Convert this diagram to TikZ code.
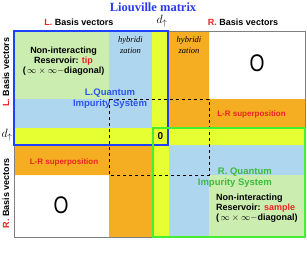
\documentclass[tikz,border=0pt]{standalone}
\usepackage{fontspec}
\setmainfont{Liberation Serif}
\setsansfont{Liberation Sans}
\usetikzlibrary{positioning}
\definecolor{resgreen}{HTML}{CCEDB0}
\definecolor{hybblue}{HTML}{AED6EF}
\definecolor{dyellow}{HTML}{E6FF33}
\definecolor{lrorange}{HTML}{F5AD22}
\definecolor{frameblue}{HTML}{2040FF}
\definecolor{framegreen}{HTML}{44EE30}
\definecolor{titleblue}{HTML}{2A3BEE}
\definecolor{txtblue}{HTML}{2B55E8}
\definecolor{txtgreen}{HTML}{3CBB3C}
\definecolor{tipred}{HTML}{EE2222}

\begin{document}
\begin{tikzpicture}[x=1pt, y=-1pt,
  lbl/.style={font=\sffamily\bfseries\fontsize{9}{10}\selectfont, align=center, inner sep=0pt},
  axis/.style={font=\sffamily\bfseries\fontsize{9}{10}\selectfont, inner sep=0pt},
  hyb/.style={font=\itshape\fontsize{8.5}{11}\selectfont, align=center, inner sep=0pt},
  lr/.style={font=\sffamily\bfseries\fontsize{8}{9}\selectfont, text=tipred, inner sep=0pt},
  qis/.style={font=\sffamily\bfseries\fontsize{9.5}{11}\selectfont, inner sep=0pt},
  bigzero/.style={font=\sffamily\fontsize{24}{24}\selectfont, inner sep=0pt, xscale=0.8},
  dlabel/.style={inner sep=0pt, font=\fontsize{11.5}{12}\selectfont},
  blueframe/.style={draw=frameblue, line width=2pt},
  greenframe/.style={draw=framegreen, line width=2.5pt}]
  \useasboundingbox (0,0) rectangle (307,259);

  % blocks of the matrix
  \fill[resgreen] (14,31) rectangle (109,99);
  \fill[hybblue] (109,31) rectangle (152,99) (14,99) rectangle (152,128);
  \fill[lrorange] (169,31) rectangle (209,99) (169,99) rectangle (305,128);
  \fill[lrorange] (14,145) rectangle (152,175) (109,175) rectangle (152,237);
  \fill[hybblue] (169,145) rectangle (305,175) (169,175) rectangle (209,237);
  \fill[resgreen] (209,175) rectangle (305,237);
  \fill[dyellow] (152,31) rectangle (169,237) (14,128) rectangle (305,145);
  \draw[gray, line width=0.8pt] (14,31) rectangle (305,237);
  \draw[dashed, line width=0.7pt] (109,99) rectangle (209,175);
  \draw[blueframe] (14,31) rectangle (168,145);
  \draw[greenframe] (153,128) rectangle (305,237);

  % labels
  \node[font=\bfseries\fontsize{12.5}{14}\selectfont, text=titleblue] (title) at (153,7) {Liouville matrix};
  \node[axis] (lbasis) at (79,22) {\textcolor{tipred}{L.} Basis vectors};
  \node[axis] (rbasis) at (243,22) {\textcolor{tipred}{R.} Basis vectors};
  \node[dlabel] (dtop) at (162,21) {$d_\uparrow$};
  \node[axis, rotate=90] (lbasisv) at (6,72) {\textcolor{tipred}{L.} Basis vectors};
  \node[axis, rotate=90] (rbasisv) at (6,193) {\textcolor{tipred}{R.} Basis vectors};
  \node[dlabel] (dleft) at (7,135) {$d_\uparrow$};

  \node[lbl] (tip) at (63.5,61.5) {Non-interacting\\Reservoir: \textcolor{tipred}{tip}\\(\,$\infty\times\infty-$diagonal)};
  \node[hyb] (hybl) at (130.5,45.5) {hybridi\\zation};
  \node[hyb] (hybr) at (189,45.5) {hybridi\\zation};
  \node[bigzero] (zeroup) at (257,63) {O};
  \node[qis, text=txtblue, align=center] (lqis) at (110,98.5) {L.Quantum\\Impurity System};
  \node[lr] (lrup) at (251.5,114) {L-R superposition};
  \node[axis, font=\sffamily\bfseries\fontsize{10}{10}\selectfont] (zerocell) at (160.5,136.5) {0};
  \node[lr] (lrdown) at (64,162) {L-R superposition};
  \node[bigzero] (zerodown) at (61,205) {O};
  \node[qis, text=txtgreen, align=right, anchor=east] (rqis) at (272,177.5) {R. Quantum\\Impurity System};
  \node[lbl, align=left, anchor=north west] (sample) at (216,194) {Non-interacting\\Reservoir: \textcolor{tipred}{sample}\\(\,$\infty\times\infty-$diagonal)};
\end{tikzpicture}
\end{document}
